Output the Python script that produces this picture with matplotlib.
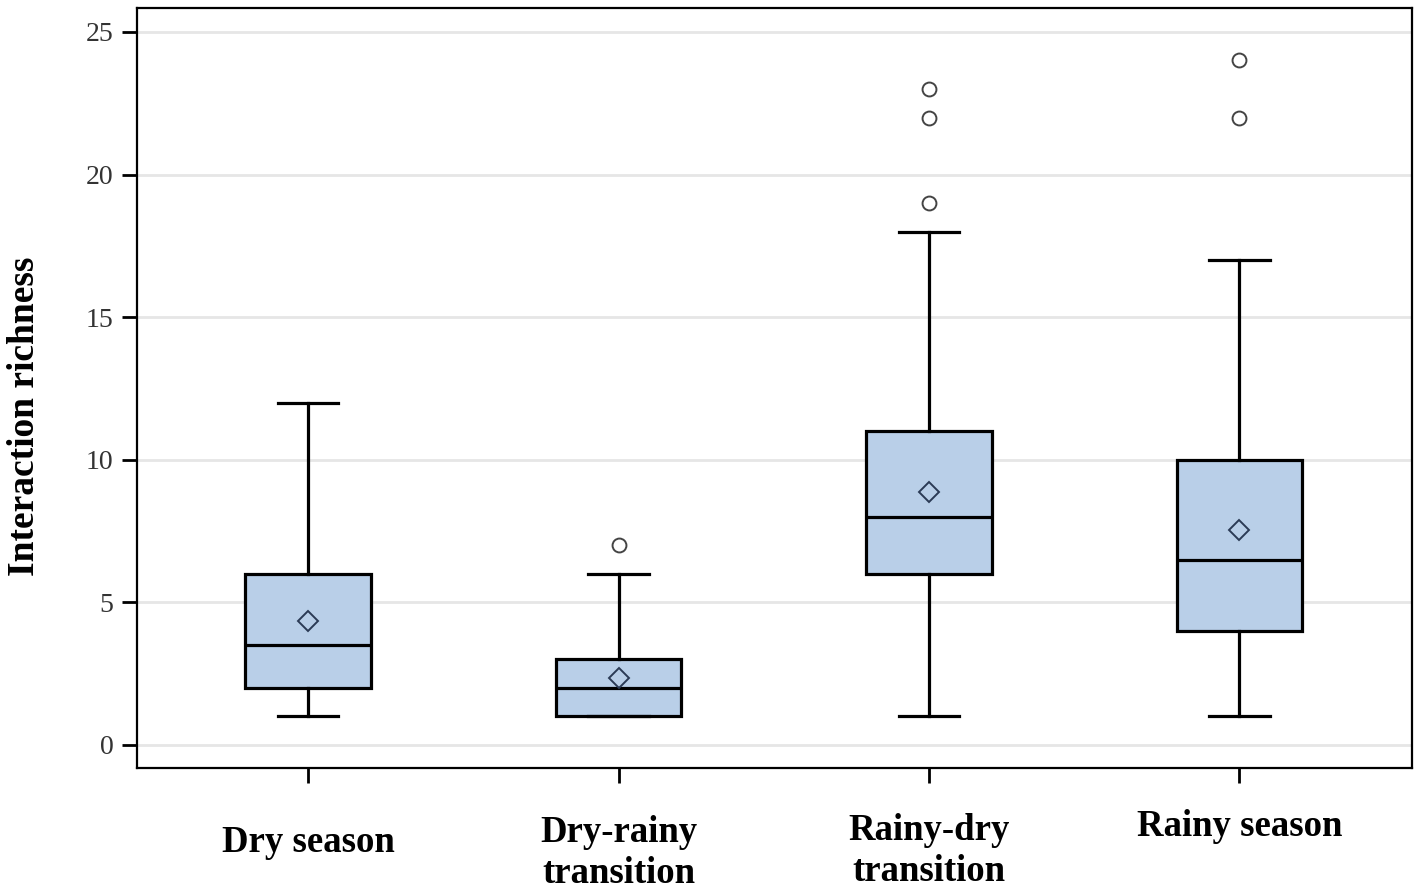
import matplotlib
matplotlib.use("Agg")
import matplotlib.pyplot as plt
import matplotlib.transforms as mtransforms

categories = ["Dry season", "Dry-rainy\ntransition", "Rainy-dry\ntransition", "Rainy season"]
whislo = [1, 1, 1, 1]
q1 = [2, 1, 6, 4]
med = [3.5, 2, 8, 6.5]
q3 = [6, 3, 11, 10]
whishi = [12, 6, 18, 17]
means = [4.35, 2.35, 8.87, 7.54]
fliers = [[], [7], [19, 22, 23], [22, 24]]
yticks = [0, 5, 10, 15, 20, 25]

stats = []
for i in range(len(categories)):
    stats.append(dict(whislo=whislo[i], q1=q1[i], med=med[i], q3=q3[i],
                      whishi=whishi[i], mean=means[i], fliers=fliers[i],
                      label=categories[i]))

fig = plt.figure(figsize=(14.2, 8.9), dpi=100)
ax = fig.add_axes([137/1420, 1-768/890, (1412-137)/1420, (768-8)/890])

serif = ["Liberation Serif", "DejaVu Serif"]

for y in yticks:
    ax.axhline(y, color="#e6e6e6", lw=2, zorder=0)

ax.bxp(stats, positions=range(len(categories)), widths=0.405, patch_artist=True,
       showmeans=True, showfliers=True,
       boxprops=dict(facecolor="#b9cfe8", edgecolor="black", linewidth=2.3),
       medianprops=dict(color="black", linewidth=2.3),
       whiskerprops=dict(color="black", linewidth=2.3),
       capprops=dict(color="black", linewidth=2.3),
       capwidths=0.195,
       meanprops=dict(marker="D", markerfacecolor="none", markeredgecolor="#2b3a55",
                      markeredgewidth=1.4, markersize=10),
       flierprops=dict(marker="o", markerfacecolor="white", markeredgecolor="#444444",
                       markeredgewidth=1.4, markersize=10))

ax.set_xlim(-0.551, 3.556)
ax.set_ylim(-0.81, 25.84)
ax.set_yticks(yticks)
ax.set_yticklabels([str(v) for v in yticks], fontfamily=serif, fontsize=20, color="#333333")
ax.set_xticks(range(len(categories)))
ax.set_xticklabels([])
ax.tick_params(axis="both", direction="out", length=11, width=2, color="black")
ax.tick_params(axis="y", pad=6)
for s in ax.spines.values():
    s.set_linewidth(1.6)

ax.set_ylabel("Interaction richness", fontfamily=serif, fontweight="bold", fontsize=27)
ax.yaxis.set_label_coords(-0.0745, 0.463)

trans = mtransforms.blended_transform_factory(ax.transData, fig.transFigure)
label_y = [842, 853, 851, 826]
for i, lab in enumerate(categories):
    ax.text(i, 1 - label_y[i]/890, lab, transform=trans, ha="center", va="center",
            fontfamily=serif, fontweight="bold", fontsize=26.5, linespacing=1.2)

fig.savefig("out.png", dpi=100)
